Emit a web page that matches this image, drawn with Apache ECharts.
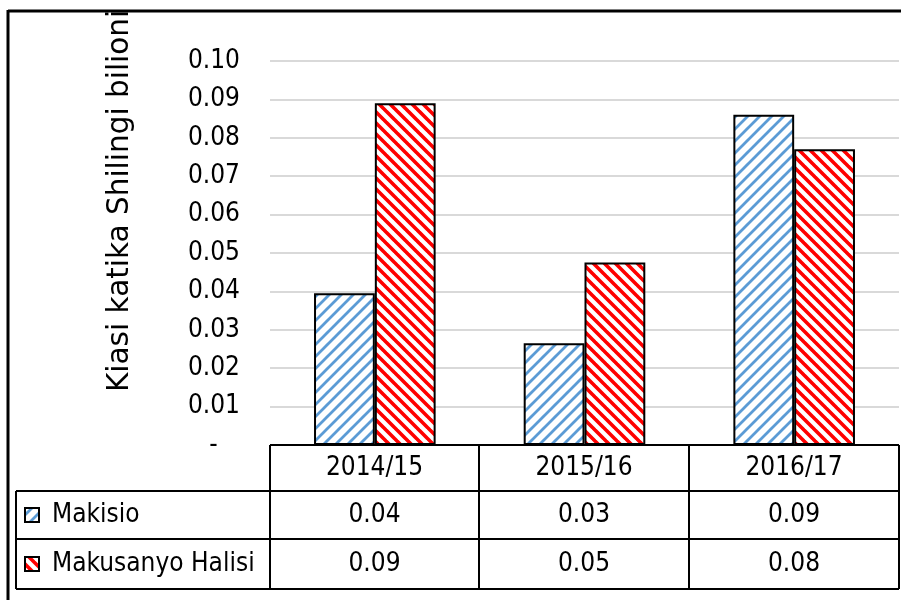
<!DOCTYPE html>
<html>
<head>
<meta charset="utf-8">
<script src="https://cdn.jsdelivr.net/npm/echarts@6/dist/echarts.min.js"></script>
<style>
  html, body { margin: 0; padding: 0; background: #fff; }
  #main { width: 901px; height: 600px; }
</style>
</head>
<body>
<div id="main"></div>
<script>
// data
var years = ['2014/15', '2015/16', '2016/17'];
var seriesNames = ['Makisio', 'Makusanyo Halisi'];
var makisio = [0.0395, 0.0265, 0.086];
var makusanyo = [0.089, 0.0475, 0.077];
var axisTitle = 'Kiasi katika Shilingi bilioni';

var FONT = '"DejaVu Sans Condensed", "Liberation Sans Narrow", "DejaVu Sans", sans-serif';

// hatch tile, dir 1 = '/', dir -1 = '\'
function hatch(color, dir, s, lw) {
  var c = document.createElement('canvas');
  c.width = s; c.height = s;
  var g = c.getContext('2d');
  g.fillStyle = '#fff';
  g.fillRect(0, 0, s, s);
  g.strokeStyle = color;
  g.lineWidth = lw;
  g.beginPath();
  for (var k = -1; k <= 1; k++) {
    if (dir > 0) {
      g.moveTo(k * s - 1, s + 1); g.lineTo(k * s + s + 1, -1);
    } else {
      g.moveTo(k * s - 1, -1); g.lineTo(k * s + s + 1, s + 1);
    }
  }
  g.stroke();
  return c;
}

var bluePat = { image: hatch('#5B9BD5', 1, 12, 2.8), repeat: 'repeat' };
var redPat = { image: hatch('#FF0000', -1, 11, 3.6), repeat: 'repeat' };

var chart = echarts.init(document.getElementById('main'));

// table layout (pixels)
var colX = [270, 479, 689, 899];
var rowY = [445, 491, 539, 589];
var tableLeft = 16;

var graphics = [];
function hline(x1, x2, y) {
  graphics.push({ type: 'line', shape: { x1: x1, y1: y, x2: x2, y2: y }, style: { stroke: '#000', lineWidth: 2 }, z: 10 });
}
function vline(x, y1, y2) {
  graphics.push({ type: 'line', shape: { x1: x, y1: y1, x2: x, y2: y2 }, style: { stroke: '#000', lineWidth: 2 }, z: 10 });
}
function txt(s, x, y, align) {
  graphics.push({
    type: 'text', x: x, y: y, z: 10,
    style: { text: s, font: '26px ' + FONT, fill: '#000', textAlign: align || 'center', textVerticalAlign: 'middle' }
  });
}

// outer frame (left + top)
graphics.push({ type: 'line', shape: { x1: 8, y1: 11, x2: 901, y2: 11 }, style: { stroke: '#000', lineWidth: 3 }, z: 20 });
graphics.push({ type: 'line', shape: { x1: 8, y1: 10, x2: 8, y2: 600 }, style: { stroke: '#000', lineWidth: 3 }, z: 20 });

// table grid
hline(colX[0], colX[3], rowY[0]);
hline(tableLeft, colX[3], rowY[1]);
hline(tableLeft, colX[3], rowY[2]);
hline(tableLeft, colX[3], rowY[3]);
vline(tableLeft, rowY[1], rowY[3]);
colX.forEach(function (x) { vline(x, rowY[0], rowY[3]); });

var rows = [makisio, makusanyo];
var pats = [bluePat, redPat];
years.forEach(function (y, i) {
  var cx = (colX[i] + colX[i + 1]) / 2;
  txt(y, cx, (rowY[0] + rowY[1]) / 2);
  rows.forEach(function (r, j) {
    txt(r[i].toFixed(2), cx, (rowY[j + 1] + rowY[j + 2]) / 2);
  });
});
seriesNames.forEach(function (n, j) {
  var cy = (rowY[j + 1] + rowY[j + 2]) / 2;
  graphics.push({
    type: 'rect', shape: { x: 25, y: cy - 7, width: 14, height: 14 }, z: 10,
    style: { fill: pats[j], stroke: '#000', lineWidth: 2 }
  });
  txt(n, 52, cy, 'left');
});

// rotated axis title
graphics.push({
  type: 'text', x: 120, y: 392, rotation: Math.PI / 2, z: 5,
  style: { text: axisTitle, font: '29.5px "DejaVu Sans", sans-serif', fill: '#000', textAlign: 'left', textVerticalAlign: 'middle' }
});

chart.setOption({
  animation: false,
  grid: { left: 270, right: 2, top: 61, bottom: 155 },
  xAxis: {
    type: 'category',
    data: years,
    axisLine: { show: false },
    axisTick: { show: false },
    axisLabel: { show: false }
  },
  yAxis: {
    type: 'value',
    min: 0,
    max: 0.1,
    interval: 0.01,
    axisLine: { show: false },
    axisTick: { show: false },
    splitLine: { lineStyle: { color: '#D9D9D9', width: 2 } },
    axisLabel: {
      margin: 30,
      color: '#000',
      fontSize: 26,
      fontFamily: FONT,
      formatter: function (v) { return v === 0 ? '-   ' : v.toFixed(2); }
    }
  },
  series: [
    {
      name: seriesNames[0], type: 'bar', data: makisio,
      barGap: '0%', barCategoryGap: '42%',
      itemStyle: { color: bluePat, borderColor: '#000', borderWidth: 2 }
    },
    {
      name: seriesNames[1], type: 'bar', data: makusanyo,
      barGap: '0%', barCategoryGap: '42%',
      itemStyle: { color: redPat, borderColor: '#000', borderWidth: 2 }
    }
  ],
  graphic: graphics
});
</script>
</body>
</html>
